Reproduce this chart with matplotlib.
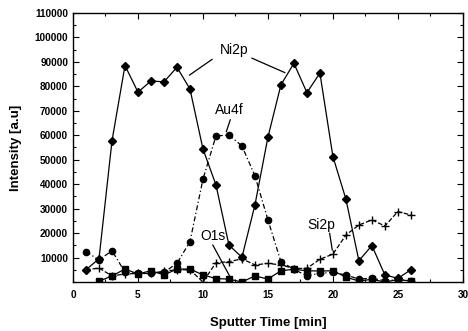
import numpy as np
import matplotlib
matplotlib.use("Agg")
import matplotlib.pyplot as plt

plt.rcParams['font.family'] = ['Liberation Sans', 'DejaVu Sans']

t = np.arange(1, 27)
ni2p = [5000, 9500, 57700, 88500, 77600, 82200, 81800, 87800, 78900, 54400,
        39700, 15100, 10100, 31500, 59200, 80600, 89400, 77400, 85400, 51300,
        33900, 8700, 14900, 2900, 1500, 5000]
au4f = [12400, 9000, 12800, 4000, 3500, 3500, 4000, 7600, 16500, 42000,
        59700, 60100, 55600, 43400, 25400, 8300, 5200, 2500, 3600, 3900,
        2900, 1200, 1600, 500, 1000, 500]
t_o1s = np.arange(2, 27)
o1s = [300, 2500, 5300, 3300, 4600, 2900, 5300, 5300, 2900, 1400,
       1200, 0, 2500, 1200, 4600, 5200, 4600, 4500, 4600, 2000,
       400, 1100, 0, 1000, 400]
si2p = [5000, 5700, 2500, 3300, 3500, 3500, 4500, 5000, 5000, 0,
        7900, 8300, 9500, 7000, 7600, 7000, 5500, 5600, 9300, 11400,
        19200, 23300, 25400, 22900, 28800, 27400]

fig = plt.figure(figsize=(4.68, 3.31), dpi=100)
ax = fig.add_axes([0.156, 0.148, 0.833, 0.813])

kw = dict(color='black', lw=0.9)
ax.plot(t, ni2p, '-', marker='D', ms=4.5, **kw)
ax.plot(t, au4f, linestyle=(0, (4, 2, 1, 2)), marker='o', ms=4.5, **kw)
ax.plot(t_o1s, o1s, '-', marker='s', ms=4.5, **kw)
ax.plot(t, si2p, '--', marker='+', ms=6, mew=1.0, **kw)

ax.set_xlim(0, 30)
ax.set_ylim(0, 110000)
ax.set_xticks(np.arange(0, 31, 5))
ax.set_xticks(np.arange(0, 31, 2.5), minor=True)
ax.set_yticks(np.arange(10000, 110001, 10000))
ax.set_yticks(np.arange(0, 110001, 5000), minor=True)
ax.tick_params(which='both', direction='in', top=True, right=True,
               labelsize=7.2, width=0.8)
ax.tick_params(which='major', length=4)
ax.tick_params(which='minor', length=2)
ax.tick_params(axis='x', pad=6)
for lab in ax.get_xticklabels() + ax.get_yticklabels():
    lab.set_fontweight('bold')
for s in ax.spines.values():
    s.set_linewidth(1.0)

ax.set_xlabel('Sputter Time [min]', fontsize=9.5, fontweight='bold', labelpad=12)
ax.set_ylabel('Intensity [a.u]', fontsize=9.5, fontweight='bold', labelpad=9)

tk = dict(fontsize=10, ha='center', va='center')
ax.text(12.4, 94800, 'Ni2p', **tk)
ax.plot([10.7, 8.97], [91000, 84600], color='black', lw=0.9)
ax.plot([13.77, 16.3], [91500, 85600], color='black', lw=0.9)
ax.text(12.05, 70300, 'Au4f', **tk)
ax.plot([12.1, 11.8], [66300, 61500], color='black', lw=0.9)
ax.text(10.75, 18900, 'O1s', **tk)
ax.plot([10.76, 12.3], [15100, 0], color='black', lw=0.9)
ax.text(19.1, 23300, 'Si2p', **tk)
ax.plot([19.75, 19.95], [19900, 13100], color='black', lw=0.9)

fig.savefig('out.png', dpi=100)
